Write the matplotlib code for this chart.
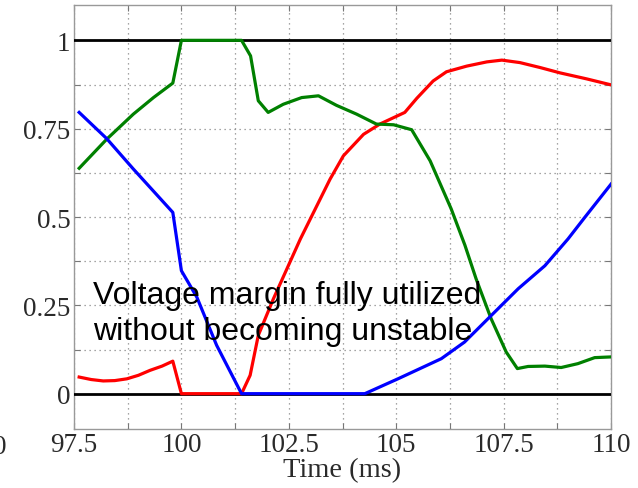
import numpy as np
import matplotlib
matplotlib.use("Agg")
import matplotlib.pyplot as plt
from matplotlib.ticker import MultipleLocator

# Time axis (ms) and normalized series
green_t = [97.62, 98.26, 98.88, 99.35, 99.80, 100.0, 101.40, 101.61, 101.79, 102.02,
           102.37, 102.80, 103.19, 103.61, 104.08, 104.54, 104.94, 105.36, 105.79,
           106.28, 106.60, 106.86, 107.21, 107.56, 107.82, 108.07,
           108.46, 108.84, 109.23, 109.62, 110.0]
green_v = [0.638, 0.720, 0.791, 0.838, 0.879, 1.0, 1.0, 0.956, 0.829, 0.796,
           0.819, 0.838, 0.843, 0.816, 0.791, 0.763, 0.761, 0.747, 0.659,
           0.523, 0.420, 0.325, 0.212, 0.118, 0.071, 0.077,
           0.078, 0.074, 0.085, 0.102, 0.104]

blue_t = [97.62, 98.26, 98.88, 99.80, 100.0, 100.36, 100.82, 101.40, 104.27,
          105.04, 106.05, 106.59, 107.21, 107.84, 108.46, 109.0, 109.39, 110.0]
blue_v = [0.796, 0.722, 0.636, 0.513, 0.348, 0.273, 0.137, 0.0, 0.0,
          0.042, 0.099, 0.146, 0.221, 0.297, 0.362, 0.438, 0.499, 0.593]

red_t = [97.62, 97.90, 98.18, 98.45, 98.73, 99.00, 99.27, 99.55, 99.80, 100.0,
         101.40, 101.60, 101.79, 102.14, 102.77, 103.46, 103.77, 104.24, 104.62,
         105.2, 105.48, 105.86, 106.17, 106.64, 107.11, 107.46, 107.88, 108.35,
         108.81, 109.43, 110.0]
red_v = [0.047, 0.040, 0.036, 0.037, 0.042, 0.052, 0.066, 0.078, 0.092, 0.0,
         0.0, 0.052, 0.165, 0.268, 0.438, 0.607, 0.673, 0.734, 0.763,
         0.796, 0.836, 0.885, 0.911, 0.927, 0.939, 0.944, 0.937, 0.923,
         0.908, 0.891, 0.874]

x_ticks = [97.5, 100, 102.5, 105, 107.5, 110]
x_tick_labels = ["97.5", "100", "102.5", "105", "107.5", "110"]
y_ticks = [0, 0.25, 0.5, 0.75, 1]
y_tick_labels = ["0", "0.25", "0.5", "0.75", "1"]
limits = [0, 1]

serif = ["Liberation Serif", "DejaVu Serif"]
label_color = "#2a2a2a"

fig = plt.figure(figsize=(6.38, 4.89), dpi=100)
ax = fig.add_axes([74 / 638, 1 - 430 / 489, (611 - 74) / 638, (430 - 6) / 489])

ax.set_xlim(97.5, 110)
ax.set_ylim(-0.1, 1.1)

ax.xaxis.set_minor_locator(MultipleLocator(1.25))
ax.yaxis.set_minor_locator(MultipleLocator(0.125))
ax.set_xticks(x_ticks)
ax.set_xticklabels(x_tick_labels, fontfamily=serif, fontsize=19.5, color=label_color)
ax.set_yticks(y_ticks)
ax.set_yticklabels(y_tick_labels, fontfamily=serif, fontsize=19.5, color=label_color)
ax.tick_params(which="both", direction="in", top=True, right=True,
               length=4, width=0.8, color="#777777", pad=2.5)

ax.grid(which="both", linestyle=(0, (1, 3)), color="#888888", linewidth=0.9)
for s in ax.spines.values():
    s.set_color("#999999")
    s.set_linewidth(1.0)

for lv in limits:
    ax.axhline(lv, color="black", linewidth=2.0, zorder=3)

ax.plot(red_t, red_v, color="#ff0000", linewidth=2.3, zorder=4)
ax.plot(green_t, green_v, color="#008000", linewidth=2.3, zorder=4)
ax.plot(blue_t, blue_v, color="#0000ff", linewidth=2.3, zorder=4)

ax.set_xlabel("Time (ms)", fontfamily=serif, fontsize=20.5, color=label_color, labelpad=0)

ax.text(97.94, 0.256, "Voltage margin fully utilized", fontfamily="Liberation Sans",
        fontsize=23, color="black", va="baseline", ha="left", zorder=6)
ax.text(97.94, 0.155, "without becoming unstable", fontfamily="Liberation Sans",
        fontsize=23, color="black", va="baseline", ha="left", zorder=6)

fig.text(0.0, 1 - 447 / 489, "0", fontfamily=serif, fontsize=19.5, color=label_color,
         ha="center", va="center")

fig.savefig("out.png", dpi=100)
